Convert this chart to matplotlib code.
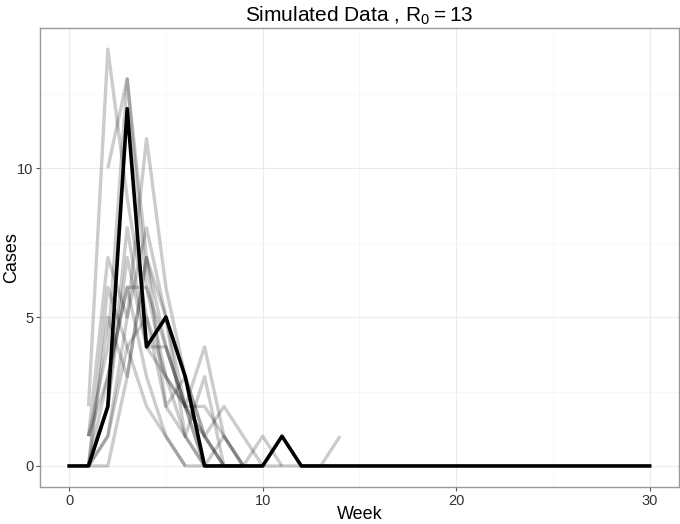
import numpy as np
import matplotlib.pyplot as plt

plt.rcParams['font.family'] = ['Liberation Sans', 'DejaVu Sans']

# simulated runs: (first week, weekly cases)
sim_starts = [1, 2, 1, 1, 1, 1, 1, 1, 1, 1, 1, 1, 1]
sim_cases = [
    [2, 14, 9, 5, 2, 1, 0],
    [10, 13, 7, 4, 2, 0],
    [0, 1, 5, 11, 6, 3, 1, 0],
    [1, 7, 5, 8, 5, 2, 0, 1, 0],
    [0, 2, 8, 4, 3, 2, 4, 1, 0],
    [0, 3, 6, 6, 3, 1, 0],
    [1, 4, 13, 6, 4, 2, 1, 0],
    [0, 5, 3, 7, 2, 3, 1, 2, 1, 0],
    [1, 3, 6, 3, 1, 0, 0, 0, 0, 0, 0, 0, 0, 1],
    [0, 1, 4, 5, 3, 2, 1, 0, 0, 1, 0],
    [0, 6, 4, 2, 1, 0],
    [0, 2, 7, 4, 4, 2, 2, 1, 0],
    [0, 0, 3, 7, 5, 1, 3, 0, 0],
]

# observed data
obs_cases = [0, 0, 2, 12, 4, 5, 3, 0, 0, 0, 0, 1, 0] + [0] * 18
obs_weeks = np.arange(len(obs_cases))

fig, ax = plt.subplots(figsize=(6.8, 5.24), dpi=100)
plt.subplots_adjust(left=0.059, right=0.998, top=0.946, bottom=0.071)

for start, cases in zip(sim_starts, sim_cases):
    wk = np.arange(start, start + len(cases))
    ax.plot(wk, cases, color='black', alpha=0.2, lw=2.4, solid_capstyle='butt')

ax.plot(obs_weeks, obs_cases, color='black', lw=2.6)

ax.set_xlim(-1.5, 31.5)
ax.set_ylim(-0.7, 14.7)
ax.set_xticks([0, 10, 20, 30])
ax.set_yticks([0, 5, 10])
ax.set_xticks([5, 15, 25], minor=True)
ax.set_yticks([2.5, 7.5, 12.5], minor=True)
ax.grid(which='major', color='#ebebeb', lw=0.8)
ax.grid(which='minor', color='#f4f4f4', lw=0.5)
ax.set_axisbelow(True)
ax.tick_params(which='major', length=3, color='#555555', labelsize=10.5,
               labelcolor='#333333', pad=2)
ax.tick_params(which='minor', length=0)
for s in ax.spines.values():
    s.set_color('#999999')
    s.set_linewidth(1.0)

ax.set_xlabel('Week', fontsize=13, va='center')
ax.set_ylabel('Cases', fontsize=13, va='center')
ax.xaxis.set_label_coords(0.5, -0.06)
ax.yaxis.set_label_coords(-0.044, 0.5)
ax.set_title(r'Simulated Data , $\mathregular{R_0 = 13}$', fontsize=15, pad=5)

fig.savefig('out.png', dpi=100)
